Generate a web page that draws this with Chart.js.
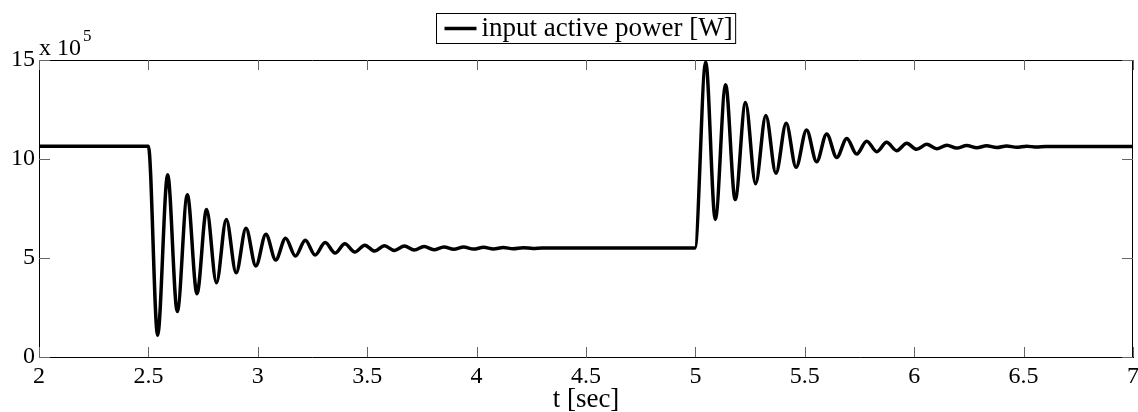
<!DOCTYPE html>
<html>
<head>
<meta charset="utf-8">
<script src="https://cdn.jsdelivr.net/npm/chart.js@4"></script>
<style>
	body { margin: 0; background: #fff; }
	#wrap { width: 1138px; height: 412px; }
</style>
</head>
<body>
<div id="wrap"><canvas id="power"></canvas></div>
<script>
// time samples (s) and input active power (x 10^5 W), read at flats, peaks and troughs
const T_SEC = [
	2.0, 2.5, 2.542, 2.588, 2.632, 2.678, 2.722, 2.766, 2.811, 2.856,
	2.901, 2.946, 2.991, 3.037, 3.082, 3.127, 3.172, 3.217, 3.262, 3.308,
	3.353, 3.398, 3.443, 3.489, 3.534, 3.579, 3.624, 3.670, 3.715, 3.760,
	3.805, 3.851, 3.896, 3.941, 3.986, 4.032, 4.077, 4.122, 4.167, 4.213,
	4.258, 4.30, 4.998,
	5.047, 5.091, 5.138, 5.182, 5.229, 5.275, 5.322, 5.368, 5.415, 5.460,
	5.508, 5.554, 5.600, 5.646, 5.692, 5.737, 5.783, 5.829, 5.874, 5.920,
	5.966, 6.011, 6.057, 6.103, 6.149, 6.194, 6.240, 6.286, 6.331, 6.377,
	6.423, 6.468, 6.514, 6.560, 6.60, 7.0
]
const POWER_E5 = [
	10.65, 10.65, 1.1, 9.2, 2.3, 8.2, 3.2, 7.45, 3.75, 6.95,
	4.25, 6.5, 4.6, 6.2, 4.9, 6.0, 5.1, 5.9, 5.15, 5.78,
	5.25, 5.72, 5.3, 5.65, 5.35, 5.62, 5.38, 5.6, 5.4, 5.58,
	5.42, 5.56, 5.44, 5.55, 5.45, 5.54, 5.46, 5.53, 5.47, 5.52,
	5.48, 5.5, 5.5,
	14.9, 6.95, 13.75, 7.95, 12.85, 8.75, 12.2, 9.28, 11.8, 9.58,
	11.46, 9.86, 11.26, 10.08, 11.04, 10.25, 10.9, 10.37, 10.84, 10.42,
	10.79, 10.49, 10.74, 10.52, 10.7, 10.55, 10.68, 10.57, 10.67, 10.58,
	10.66, 10.59, 10.65, 10.6, 10.63, 10.63
]
const SERIES_LABEL = 'input active power [W]'
const X_TITLE = 't [sec]'
const Y_EXPONENT = '5'

const FONT = '"Liberation Serif", "Times New Roman", serif'

// matlab style: inner ticks on all four sides, full box, boxed legend, "x 10^5"
const matlabFrame = {
	id: 'matlabFrame',
	afterDraw(chart) {
		const ctx = chart.ctx
		const a = chart.chartArea
		const xs = chart.scales.x
		const ys = chart.scales.y
		ctx.save()
		ctx.strokeStyle = '#000'
		ctx.lineWidth = 1
		ctx.beginPath()
		ctx.moveTo(a.left, a.top + 0.5)
		ctx.lineTo(a.right, a.top + 0.5)
		ctx.moveTo(a.right - 0.5, a.top)
		ctx.lineTo(a.right - 0.5, a.bottom)
		ctx.stroke()

		ctx.strokeStyle = '#666'
		ctx.beginPath()
		xs.ticks.forEach(t => {
			const px = Math.round(xs.getPixelForValue(t.value)) + 0.5
			ctx.moveTo(px, a.bottom)
			ctx.lineTo(px, a.bottom - 10)
			ctx.moveTo(px, a.top)
			ctx.lineTo(px, a.top + 10)
		})
		ys.ticks.forEach(t => {
			const py = Math.round(ys.getPixelForValue(t.value)) + 0.5
			ctx.moveTo(a.left, py)
			ctx.lineTo(a.left + 11, py)
			ctx.moveTo(a.right, py)
			ctx.lineTo(a.right - 11, py)
		})
		ctx.stroke()

		// exponent label
		ctx.fillStyle = '#000'
		ctx.textBaseline = 'alphabetic'
		ctx.textAlign = 'left'
		ctx.font = '24px ' + FONT
		ctx.fillText('x 10', a.left, 55)
		const w = ctx.measureText('x 10').width
		ctx.font = '17px ' + FONT
		ctx.fillText(Y_EXPONENT, a.left + w + 2, 41)

		// legend box
		ctx.font = '27px ' + FONT
		const tw = ctx.measureText(SERIES_LABEL).width
		const boxW = 45 + tw + 3
		const bx = Math.round((a.left + a.right) / 2 - boxW / 2) + 0.5
		ctx.strokeStyle = '#000'
		ctx.lineWidth = 1
		ctx.strokeRect(bx, 13.5, boxW, 30)
		ctx.lineWidth = 3.5
		ctx.beginPath()
		ctx.moveTo(bx + 8, 28.5)
		ctx.lineTo(bx + 40, 28.5)
		ctx.stroke()
		ctx.textBaseline = 'middle'
		ctx.fillText(SERIES_LABEL, bx + 45, 29)
		ctx.restore()
	}
}

const powerData = {
	datasets: [
		{
			label: SERIES_LABEL,
			data: T_SEC.map((t, i) => ({ x: t, y: POWER_E5[i] })),
			borderColor: '#000',
			backgroundColor: '#000',
			borderWidth: 3.5,
			pointRadius: 0,
			cubicInterpolationMode: 'monotone',
			clip: false,
		},
	]
}

const powerConfig = {
	type: 'line',
	data: powerData,
	options: {
		responsive: true,
		maintainAspectRatio: false,
		animation: false,
		layout: {
			padding: { top: 60, right: 5, left: 0, bottom: 0 }
		},
		plugins: {
			legend: { display: false },
			title: { display: false },
			tooltip: { enabled: false }
		},
		scales: {
			x: {
				type: 'linear',
				min: 2,
				max: 7,
				ticks: {
					stepSize: 0.5,
					color: '#000',
					padding: 5,
					maxRotation: 0,
					font: { family: FONT, size: 24 },
					callback: v => String(v)
				},
				title: {
					display: true,
					text: X_TITLE,
					color: '#000',
					padding: { top: 0, bottom: 0 },
					font: { family: FONT, size: 27, lineHeight: 0.9 }
				},
				grid: { display: false, drawTicks: false },
				border: { display: true, color: '#000', width: 1 },
				afterFit: s => {
					s.height = 55
					s.paddingLeft = 0
					s.paddingRight = 0
				}
			},
			y: {
				min: 0,
				max: 15,
				ticks: {
					stepSize: 5,
					color: '#000',
					padding: 4,
					font: { family: FONT, size: 24 }
				},
				grid: { display: false, drawTicks: false },
				border: { display: true, color: '#000', width: 1 },
				afterFit: s => { s.width = 39 }
			}
		}
	},
	plugins: [matlabFrame]
}

const powerChart = new Chart(
	document.getElementById('power'),
	powerConfig
)
</script>
</body>
</html>
